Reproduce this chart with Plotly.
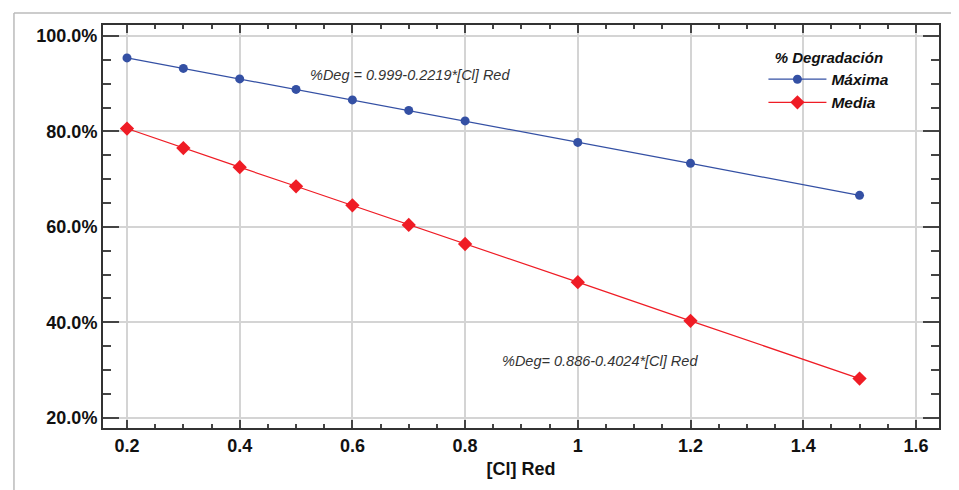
import plotly.graph_objects as go

cl_red = [0.2, 0.3, 0.4, 0.5, 0.6, 0.7, 0.8, 1.0, 1.2, 1.5]
maxima = [0.954, 0.932, 0.910, 0.888, 0.866, 0.844, 0.822, 0.777, 0.733, 0.666]
media = [0.806, 0.765, 0.725, 0.685, 0.645, 0.604, 0.564, 0.484, 0.403, 0.282]
series_names = ["Máxima", "Media"]
legend_title = "% Degradación"
eq_max = "%Deg = 0.999-0.2219*[Cl] Red"
eq_med = "%Deg= 0.886-0.4024*[Cl] Red"
x_title = "[Cl] Red"

BLUE = "#3450a4"
RED = "#ef1c25"
SANS = "Liberation Sans, Arial, sans-serif"

fig = go.Figure()
fig.add_trace(go.Scatter(
    x=cl_red, y=maxima, mode="lines+markers", name=f"<b><i>{series_names[0]}</i></b>",
    line=dict(color=BLUE, width=1.2),
    marker=dict(symbol="circle", size=9, color=BLUE),
))
fig.add_trace(go.Scatter(
    x=cl_red, y=media, mode="lines+markers", name=f"<b><i>{series_names[1]}</i></b>",
    line=dict(color=RED, width=1.2),
    marker=dict(symbol="diamond", size=11, color=RED),
))

fig.add_annotation(x=0.702, y=0.918, xref="x", yref="y", text=f"<i>{eq_max}</i>",
                   showarrow=False, font=dict(family=SANS, size=14.5, color="#333333"))
fig.add_annotation(x=1.039, y=0.319, xref="x", yref="y", text=f"<i>{eq_med}</i>",
                   showarrow=False, font=dict(family=SANS, size=14.5, color="#333333"))

# outer frame lines (left and top)
fig.add_shape(type="line", xref="paper", yref="paper", x0=-0.1065, x1=1.04, y0=1.0298, y1=1.0298,
              line=dict(color="#bbbbbb", width=1.5))
fig.add_shape(type="line", xref="paper", yref="paper", x0=-0.1065, x1=-0.1065, y0=1.0298, y1=-0.2,
              line=dict(color="#bbbbbb", width=1.5))

axis_common = dict(
    showline=True, linecolor="#333333", linewidth=2, mirror="ticks",
    ticks="inside", tickcolor="#444444", tickwidth=2,
    showgrid=True, gridcolor="#d4d4d4", gridwidth=2,
    zeroline=False,
    tickfont=dict(family=SANS, size=18, color="#111111", weight="bold"),
)

fig.update_xaxes(
    **axis_common,
    range=[0.1574, 1.641], tick0=0.2, dtick=0.2, ticklen=8,
    minor=dict(dtick=0.05, tick0=0.2, ticks="inside", ticklen=4, tickcolor="#444444", tickwidth=1.5, showgrid=False),
    title=dict(text=f"<b>{x_title}</b>", font=dict(family=SANS, size=18, color="#111111"), standoff=8),
)
fig.update_yaxes(
    **axis_common,
    range=[0.1784, 1.023], tick0=0.2, dtick=0.2, ticklen=16, tickformat=".1%",
    minor=dict(dtick=0.05, tick0=0.2, ticks="inside", ticklen=8, tickcolor="#444444", tickwidth=1.5, showgrid=False),
)

fig.update_layout(
    width=951, height=482,
    margin=dict(l=95, r=20, t=17, b=62),
    paper_bgcolor="white", plot_bgcolor="white",
    showlegend=True,
    legend=dict(
        x=0.79, y=0.955, xanchor="left", yanchor="top",
        bgcolor="rgba(0,0,0,0)",
        title=dict(text=f"<b><i>{legend_title}</i></b>", side="top center",
                   font=dict(family=SANS, size=15, color="#111111")),
        font=dict(family=SANS, size=15.5, color="#111111"),
        itemwidth=58, tracegroupgap=0,
    ),
)

fig.write_html("out.html")
